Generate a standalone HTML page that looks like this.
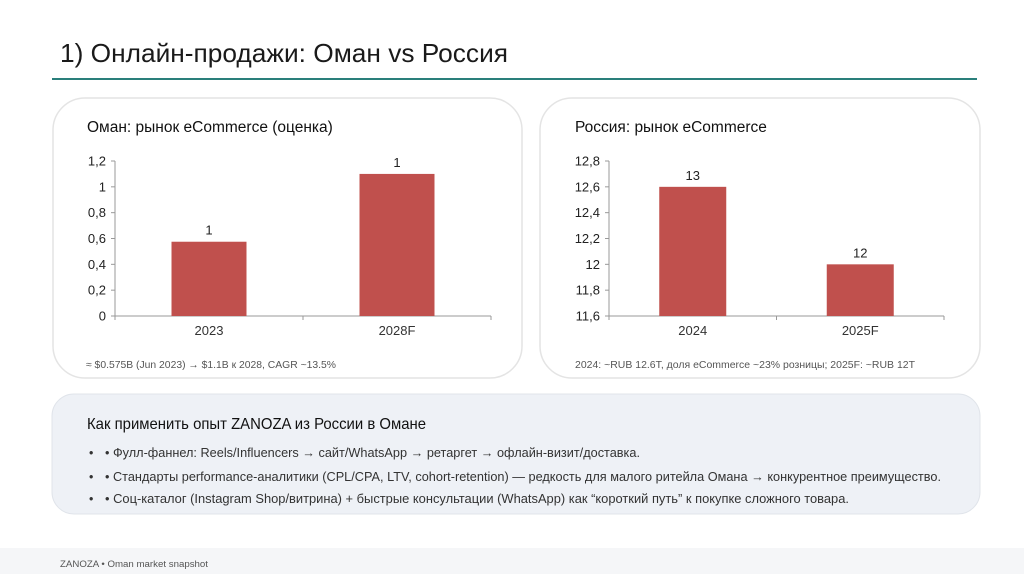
<!DOCTYPE html>
<html><head><meta charset="utf-8"><style>
body{margin:0;width:1024px;height:574px;overflow:hidden;background:#fff;font-family:"Liberation Sans","DejaVu Sans",sans-serif}
svg text{font-family:"Liberation Sans","DejaVu Sans",sans-serif}
</style></head><body>
<svg id="s" width="1024" height="574" viewBox="0 0 1024 574">
<text x="60" y="62" font-size="26" fill="#1a1a1a" textLength="448" lengthAdjust="spacingAndGlyphs">1) Онлайн-продажи: Оман vs Россия</text>
<line x1="52" y1="79" x2="977" y2="79" stroke="#2a7f7b" stroke-width="2"/>
<rect x="53" y="98" width="469" height="280" rx="32" fill="#fff" stroke="#e4e4e4" stroke-width="1.5"/>
<rect x="540" y="98" width="440" height="280" rx="32" fill="#fff" stroke="#e4e4e4" stroke-width="1.5"/>
<text x="87" y="132" font-size="15.5" fill="#111">Оман: рынок eCommerce (оценка)</text>
<text x="575" y="132" font-size="15.5" fill="#111">Россия: рынок eCommerce</text>
<text x="86" y="368" font-size="10.5" fill="#555" textLength="250" lengthAdjust="spacingAndGlyphs">≈ $0.575B (Jun 2023) → $1.1B к 2028, CAGR ~13.5%</text>
<text x="575" y="368" font-size="10.5" fill="#555" textLength="340" lengthAdjust="spacingAndGlyphs">2024: ~RUB 12.6T, доля eCommerce ~23% розницы; 2025F: ~RUB 12T</text>
<g id="c1"></g>
<g id="c2"></g>
<rect x="52" y="394" width="928" height="120" rx="22" fill="#eef1f6" stroke="#e0e4ea"/>
<text x="87" y="429" font-size="16" fill="#111" textLength="339" lengthAdjust="spacingAndGlyphs">Как применить опыт ZANOZA из России в Омане</text>
<g font-size="12.5" fill="#333">
<text x="89" y="457">•</text>
<text x="105" y="457" textLength="535" lengthAdjust="spacingAndGlyphs">• Фулл-фаннел: Reels/Influencers → сайт/WhatsApp → ретаргет → офлайн-визит/доставка.</text>
<text x="89" y="481">•</text>
<text x="105" y="481" textLength="836" lengthAdjust="spacingAndGlyphs">• Стандарты performance-аналитики (CPL/CPA, LTV, cohort-retention) — редкость для малого ритейла Омана → конкурентное преимущество.</text>
<text x="89" y="503">•</text>
<text x="105" y="503" textLength="744" lengthAdjust="spacingAndGlyphs">• Соц-каталог (Instagram Shop/витрина) + быстрые консультации (WhatsApp) как “короткий путь” к покупке сложного товара.</text>
</g>
<rect x="0" y="548" width="1024" height="26" fill="#f5f6f8"/>
<text x="60" y="567" font-size="9" fill="#555" textLength="148" lengthAdjust="spacingAndGlyphs">ZANOZA • Oman market snapshot</text>
</svg>
<script>
const omanCats=["2023","2028F"];
const omanVals=[0.575,1.1];
const omanLabels=["1","1"];
const omanTicks=[0,0.2,0.4,0.6,0.8,1,1.2];
const rusCats=["2024","2025F"];
const rusVals=[12.6,12.0];
const rusLabels=["13","12"];
const rusTicks=[11.6,11.8,12,12.2,12.4,12.6,12.8];
const NS="http://www.w3.org/2000/svg";
function mk(p,t,a){const e=document.createElementNS(NS,t);for(const k in a)e.setAttribute(k,a[k]);p.appendChild(e);return e;}
function draw(id,cats,vals,labels,ticks,x0,x1,bw,pfx){
 const g=document.getElementById(id);
 const yb=316,yt=161,mn=ticks[0],mx=ticks[ticks.length-1];
 const y=v=>yb-(v-mn)/(mx-mn)*(yb-yt);
 const step=(x1-x0)/cats.length;
 let l=mk(g,'line',{x1:x0,y1:yt,x2:x0,y2:yb,stroke:'#999'});
 
 
 l=mk(g,'line',{x1:x0,y1:yb,x2:x1,y2:yb,stroke:'#999'});
 
 
 ticks.forEach(t=>{
  mk(g,'line',{x1:x0-4,y1:y(t),x2:x0,y2:y(t),stroke:'#999'});
  const tx=mk(g,'text',{x:x0-9,y:y(t)+4.5,'font-size':13,'text-anchor':'end',fill:'#222'});
  tx.textContent=String(t).replace('.',',');
  
  
 });
 for(let i=0;i<=cats.length;i++)mk(g,'line',{x1:x0+i*step,y1:yb,x2:x0+i*step,y2:yb+4,stroke:'#999'});
 cats.forEach((c,i)=>{
  const cx=x0+step*(i+0.5);
  const r=mk(g,'rect',{x:cx-bw/2,y:y(vals[i]),width:bw,height:yb-y(vals[i]),fill:'#c0504d'});
  
  
  const v=mk(g,'text',{x:cx,y:y(vals[i])-7,'font-size':13,'text-anchor':'middle',fill:'#222'});
  v.textContent=labels[i];
  
  
  const xl=mk(g,'text',{x:cx,y:yb+19,'font-size':13,'text-anchor':'middle',fill:'#333'});
  xl.textContent=c;
  
  
 });
}
draw('c1',omanCats,omanVals,omanLabels,omanTicks,115,491,75,'oman');
draw('c2',rusCats,rusVals,rusLabels,rusTicks,609,944,67,'russia');
</script>
</body></html>
